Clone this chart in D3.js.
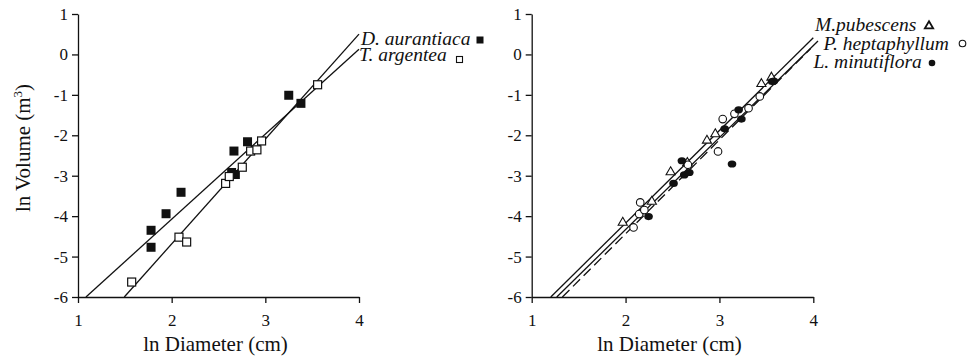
<!DOCTYPE html>
<html lang="en">
<head>
<meta charset="UTF-8">
<title>ln Volume vs ln Diameter</title>
<script src="https://d3js.org/d3.v7.min.js"></script>
<style>
  body { margin: 0; background: #fff; }
  text { font-family: "Liberation Serif", "Times New Roman", serif; fill: #111; }
  .axis path, .axis line { stroke: #111; stroke-width: 1.3px; }
  .axis text { font-size: 17px; }
</style>
</head>
<body>
<svg width="970" height="363"></svg>
<script>
// ---- data ----
// left panel
const dAurX = [1.78, 1.78, 1.94, 2.10, 2.665, 2.64, 2.68, 2.81, 3.25, 3.38];
const dAurY = [-4.35, -4.77, -3.94, -3.41, -2.39, -2.92, -2.97, -2.16, -1.01, -1.21];
const tArgX = [1.573, 2.078, 2.16, 2.576, 2.615, 2.754, 2.843, 2.91, 2.96, 3.558];
const tArgY = [-5.63, -4.52, -4.64, -3.19, -3.02, -2.79, -2.39, -2.36, -2.14, -0.75];

// right panel
const mPubX = [1.97, 2.28, 2.48, 2.658, 2.867, 2.956, 3.447, 3.554];
const mPubY = [-4.16, -3.64, -2.91, -2.68, -2.13, -1.97, -0.73, -0.57];
const pHepX = [2.156, 2.145, 2.20, 2.085, 2.664, 2.985, 3.035, 3.16, 3.31, 3.43];
const pHepY = [-3.66, -3.95, -3.85, -4.28, -2.73, -2.40, -1.60, -1.47, -1.33, -1.04];
const lMinX = [2.245, 2.511, 2.60, 2.625, 2.679, 3.056, 3.134, 3.205, 3.234, 3.561, 3.58];
const lMinY = [-4.01, -3.19, -2.63, -2.98, -2.92, -1.84, -2.71, -1.37, -1.60, -0.67, -0.66];

// fitted lines: slope, intercept, x start, x end
const leftFitSlope = [2.103, 2.594];
const leftFitIntercept = [-8.282, -9.875];
const leftFitFrom = [1.085, 1.494];
const leftFitTo = [4.0, 4.0];

const rightFitSlope = [2.292, 2.275, 2.323];
const rightFitIntercept = [-8.757, -8.882, -9.083];
const rightFitFrom = [1.203, 1.267, 1.327];
const rightFitTo = [4.0, 4.05, 3.97];
const rightFitDash = [false, false, true];

const xTicks = [1, 2, 3, 4];
const yTicks = [1, 0, -1, -2, -3, -4, -5, -6];
const leftNames = ["D. aurantiaca", "T. argentea"];
const rightNames = ["M.pubescens", "P. heptaphyllum", "L. minutiflora"];

const svg = d3.select("svg");

// scales
const yScale = d3.scaleLinear().domain([-6, 1]).range([297, 14]);
const xLeft = d3.scaleLinear().domain([1, 4]).range([78, 359]);
const xRight = d3.scaleLinear().domain([1, 4]).range([531.7, 813.3]);

function drawAxes(x) {
  const gy = svg.append("g").attr("class", "axis")
    .attr("transform", "translate(" + x.range()[0] + ",0)")
    .call(d3.axisLeft(yScale).tickValues(yTicks).tickSize(6).tickSizeOuter(0).tickPadding(4)
      .tickFormat(d3.format("d")));
  gy.selectAll("text").text(d => d < 0 ? "-" + Math.abs(d) : d);

  svg.append("g").attr("class", "axis")
    .attr("transform", "translate(0," + yScale(-6) + ")")
    .call(d3.axisBottom(x).tickValues(xTicks).tickSize(6).tickSizeOuter(0).tickPadding(11)
      .tickFormat(d3.format("d")));
  svg.selectAll(".axis .domain").attr("fill", "none");

  svg.append("text")
    .attr("x", (x.range()[0] + x.range()[1]) / 2 - 3)
    .attr("y", 351)
    .attr("text-anchor", "middle")
    .style("font-size", "21px")
    .text("ln Diameter (cm)");
}

function drawFit(x, slope, b, x0, x1, dashed) {
  svg.append("line")
    .attr("x1", x(x0)).attr("y1", yScale(b + slope * x0))
    .attr("x2", x(x1)).attr("y2", yScale(b + slope * x1))
    .attr("stroke", "#111")
    .attr("stroke-width", 1.3)
    .attr("stroke-dasharray", dashed ? "10,5" : null);
}

// ---- left panel ----
drawAxes(xLeft);

svg.append("text")
  .attr("transform", "translate(30,148) rotate(-90)")
  .attr("text-anchor", "middle")
  .style("font-size", "21px")
  .html('ln Volume (m<tspan dy="-8" style="font-size:13px">3</tspan><tspan dy="8">)</tspan>');

leftFitSlope.forEach((s, i) => drawFit(xLeft, s, leftFitIntercept[i], leftFitFrom[i], leftFitTo[i], false));

const sq = 9;
svg.append("g").selectAll("rect")
  .data(dAurX.map((v, i) => [v, dAurY[i]]))
  .join("rect")
  .attr("x", d => xLeft(d[0]) - sq / 2).attr("y", d => yScale(d[1]) - sq / 2)
  .attr("width", sq).attr("height", sq)
  .attr("fill", "#111");

svg.append("g").selectAll("rect")
  .data(tArgX.map((v, i) => [v, tArgY[i]]))
  .join("rect")
  .attr("x", d => xLeft(d[0]) - 4).attr("y", d => yScale(d[1]) - 4)
  .attr("width", 8).attr("height", 8)
  .attr("fill", "#fff").attr("stroke", "#111").attr("stroke-width", 1.2);

// left labels
svg.append("text").attr("x", 361).attr("y", 44.5)
  .style("font-size", "19.5px").style("font-style", "italic").text(leftNames[0]);
svg.append("text").attr("x", 359).attr("y", 61)
  .style("font-size", "19.5px").style("font-style", "italic").text(leftNames[1]);
svg.append("rect").attr("x", 476.5).attr("y", 36.5).attr("width", 7).attr("height", 7).attr("fill", "#111");
svg.append("rect").attr("x", 456.5).attr("y", 56.5).attr("width", 6).attr("height", 6)
  .attr("fill", "#fff").attr("stroke", "#111").attr("stroke-width", 1.1);

// ---- right panel ----
drawAxes(xRight);

rightFitSlope.forEach((s, i) => drawFit(xRight, s, rightFitIntercept[i], rightFitFrom[i], rightFitTo[i], rightFitDash[i]));

const tri = d3.symbol().type(d3.symbolTriangle).size(36);
svg.append("g").selectAll("path")
  .data(mPubX.map((v, i) => [v, mPubY[i]]))
  .join("path")
  .attr("d", tri)
  .attr("transform", d => "translate(" + xRight(d[0]) + "," + yScale(d[1]) + ")")
  .attr("fill", "#fff").attr("stroke", "#111").attr("stroke-width", 1.1);

svg.append("g").selectAll("circle")
  .data(pHepX.map((v, i) => [v, pHepY[i]]))
  .join("circle")
  .attr("cx", d => xRight(d[0])).attr("cy", d => yScale(d[1])).attr("r", 3.8)
  .attr("fill", "#fff").attr("stroke", "#111").attr("stroke-width", 1.1);

svg.append("g").selectAll("ellipse")
  .data(lMinX.map((v, i) => [v, lMinY[i]]))
  .join("ellipse")
  .attr("cx", d => xRight(d[0])).attr("cy", d => yScale(d[1])).attr("rx", 4.3).attr("ry", 3.6)
  .attr("fill", "#111");

// right labels
svg.append("text").attr("x", 815).attr("y", 30.5)
  .style("font-size", "19.5px").style("font-style", "italic").text(rightNames[0]);
svg.append("text").attr("x", 823.5).attr("y", 49.5)
  .style("font-size", "19.5px").style("font-style", "italic").text(rightNames[1]);
svg.append("text").attr("x", 813.5).attr("y", 68)
  .style("font-size", "19.5px").style("font-style", "italic").text(rightNames[2]);
svg.append("path").attr("d", d3.symbol().type(d3.symbolTriangle).size(30)())
  .attr("transform", "translate(929,26)")
  .attr("fill", "none").attr("stroke", "#111").attr("stroke-width", 1.8);
svg.append("circle").attr("cx", 962.5).attr("cy", 43.5).attr("r", 3.3)
  .attr("fill", "#fff").attr("stroke", "#111").attr("stroke-width", 1.1);
svg.append("circle").attr("cx", 932).attr("cy", 63).attr("r", 3.3).attr("fill", "#111");
</script>
</body>
</html>
